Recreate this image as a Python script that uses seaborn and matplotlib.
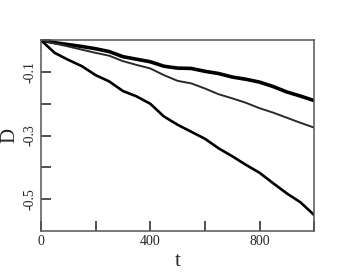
import pandas as pd
import matplotlib.pyplot as plt
import seaborn as sns

# values
t = [0, 50, 100, 150, 200, 250, 300, 350, 400, 450, 500,
     550, 600, 650, 700, 750, 800, 850, 900, 950, 1000]
d_top = [0, -0.008, -0.014, -0.020, -0.027, -0.036, -0.052, -0.060, -0.068, -0.082, -0.088,
         -0.089, -0.098, -0.105, -0.116, -0.123, -0.132, -0.146, -0.163, -0.176, -0.190]
d_mid = [0, -0.010, -0.020, -0.030, -0.040, -0.049, -0.066, -0.078, -0.089, -0.110, -0.128,
         -0.136, -0.152, -0.170, -0.183, -0.197, -0.214, -0.228, -0.244, -0.260, -0.275]
d_low = [0, -0.040, -0.062, -0.082, -0.110, -0.130, -0.160, -0.177, -0.200, -0.240, -0.266,
         -0.288, -0.310, -0.340, -0.365, -0.392, -0.417, -0.450, -0.482, -0.510, -0.550]

x_ticks = [0, 200, 400, 600, 800, 1000]
x_labels = ['0', '', '400', '', '800', '']
y_ticks = [-0.5, -0.4, -0.3, -0.2, -0.1, 0.0]
y_labels = ['-0.5', '', '-0.3', '', '-0.1', '']

sns.set_style("ticks")
plt.rcParams['font.family'] = ['Liberation Serif', 'DejaVu Serif']

fig = plt.figure(figsize=(3.53, 2.73), dpi=100)
ax = fig.add_axes([0.116, 0.154, 0.774, 0.699])

df = pd.DataFrame({'t': t, 'top': d_top, 'mid': d_mid, 'low': d_low})
sns.lineplot(data=df, x='t', y='top', color='black', lw=2.6, ax=ax)
sns.lineplot(data=df, x='t', y='mid', color='#2a2a2a', lw=1.4, ax=ax)
sns.lineplot(data=df, x='t', y='low', color='black', lw=1.9, ax=ax)

ax.set_xlim(0, 1000)
ax.set_ylim(-0.6, 0)
ax.set_xticks(x_ticks)
ax.set_xticklabels(x_labels)
ax.set_yticks(y_ticks)
ax.set_yticklabels(y_labels, rotation=90, va='center')
ax.tick_params(direction='in', length=7.5, width=1.1, color='#222222',
               labelsize=10, pad=3)

for s in ax.spines.values():
    s.set_color('#555555')
    s.set_linewidth(1.1)

ax.set_xlabel('t', fontsize=15, labelpad=3)
ax.set_ylabel('D', fontsize=15, labelpad=3)

plt.savefig('out.png', dpi=100)
